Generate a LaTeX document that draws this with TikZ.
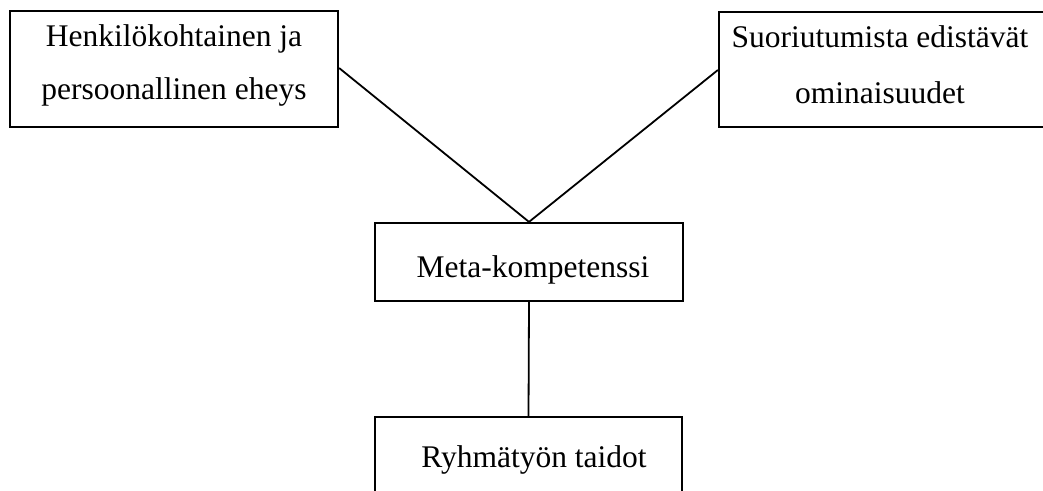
\documentclass[tikz,border=0pt]{standalone}
\usepackage{fontspec}
\setmainfont{Liberation Serif}
\begin{document}
\begin{tikzpicture}[x=1pt,y=-1pt,
  box/.style={draw,line width=2.2pt,inner sep=0pt},
  lbl/.style={inner sep=0pt,font=\fontsize{31.5}{53}\selectfont,align=center},
  conn/.style={line width=1.8pt}]
\useasboundingbox (0,0) rectangle (1043,490);
\node[box,minimum width=328,minimum height=116] (b1) at (174,69) {};
\node[box,minimum width=331,minimum height=115] (b2) at (884.5,69.5) {};
\node[box,minimum width=308,minimum height=78] (m) at (529,262) {};
\node[box,minimum width=307,minimum height=90] (r) at (528.5,462) {};
\node[lbl] (t1) at (174,65) {Henkilökohtainen ja\\persoonallinen eheys};
\node[lbl,font=\fontsize{31.5}{56}\selectfont] (t2) at (880,65) {Suoriutumista edistävät\\ominaisuudet};
\node[lbl,anchor=base] (t3) at (533,277) {Meta-kompetenssi};
\node[lbl,anchor=base] (t4) at (534,467) {Ryhmätyön taidot};
\coordinate (apex) at (m.north);
\draw[conn] (b1.east |- 0,68) -- (apex);
\draw[conn] (b2.west |- 0,70) -- (apex);
\draw[conn] (m.south) -- (r.north);
\end{tikzpicture}
\end{document}
